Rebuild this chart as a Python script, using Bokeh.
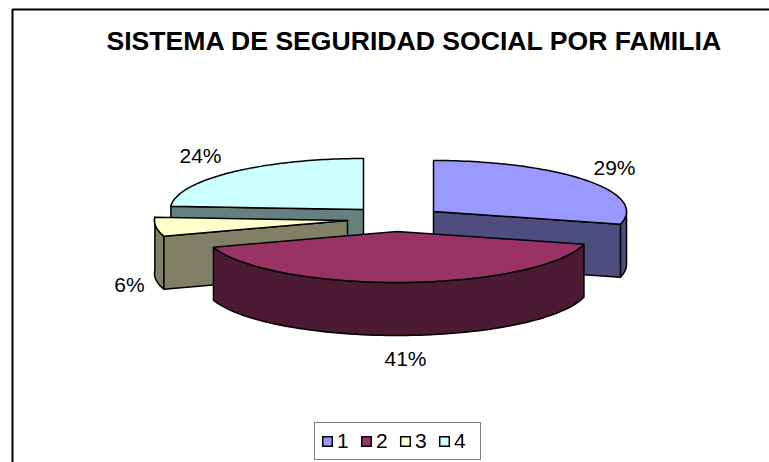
import numpy as np
from bokeh.plotting import figure
from bokeh.models import Legend, LegendItem
from bokeh.core.properties import value
from bokeh.embed import file_html
from bokeh.resources import INLINE

# data
title_text = "SISTEMA DE SEGURIDAD SOCIAL POR FAMILIA"
categories = ["1", "2", "3", "4"]
shares = [29, 41, 6, 24]

# styles
top_colors = ["#9999FF", "#993366", "#FFFFCC", "#CCFFFF"]
side_colors = ["#4D4D80", "#4D1A33", "#808066", "#668080"]
FONT = value("Liberation Sans")

# layout of the 3-D pie, in page pixels
RX, RY, DEPTH = 193.0, 51.0, 53.0
centers = [(433, 211), (396.5, 231), (347, 220), (363, 209)]
label_pos = [(614, 167), (405, 358), (129, 284), (200, 155)]

p = figure(width=769, height=462, x_range=(0, 769), y_range=(462, 0),
           output_backend="svg", toolbar_location=None, min_border=0,
           outline_line_color=None, background_fill_color="white")
p.axis.visible = False
p.grid.visible = False

p.line([12, 12, 769], [462, 9, 9], line_color="black", line_width=2)

fr = np.array(shares, dtype=float) / sum(shares)
edges = np.concatenate([[0.0], np.cumsum(fr)]) * 2 * np.pi


def arc(cx, cy, a0, a1, n=80):
    t = np.linspace(a0, a1, n)
    return cx + RX * np.sin(t), cy - RY * np.cos(t)


def draw(xs, ys, color):
    return p.patch(list(xs), list(ys), fill_color=color, line_color="black",
                   line_width=1.5, line_join="round")


def outer_wall(cx, cy, a0, a1, color):
    ax, ay = arc(cx, cy, a0, a1)
    draw(np.r_[ax, ax[::-1]], np.r_[ay, ay[::-1] + DEPTH], color)


def radial_wall(cx, cy, a, color):
    ex, ey = arc(cx, cy, a, a, 1)
    draw([cx, ex[0], ex[0], cx], [cy, ey[0], ey[0] + DEPTH, cy + DEPTH], color)


renderers = {}
for i in [3, 0, 2, 1]:                 # back to front
    cx, cy = centers[i]
    a0, a1 = edges[i], edges[i + 1]
    if i == 3:
        radial_wall(cx, cy, a0, side_colors[i])
    if i == 0:
        outer_wall(cx, cy, np.pi / 2, a1, side_colors[i])
        radial_wall(cx, cy, a1, side_colors[i])
    if i == 2:
        outer_wall(cx, cy, a0, a1, side_colors[i])
        radial_wall(cx, cy, a0, side_colors[i])
    if i == 1:
        outer_wall(cx, cy, a0, a1, side_colors[i])
    ax, ay = arc(cx, cy, a0, a1)
    renderers[i] = draw(np.r_[cx, ax], np.r_[cy, ay], top_colors[i])

p.text([414], [40], text=[title_text], text_font=FONT, text_font_style="bold",
       text_font_size="26.6px", text_align="center", text_baseline="middle",
       text_color="black")
p.text([q[0] for q in label_pos], [q[1] for q in label_pos],
       text=[f"{v}%" for v in shares], text_font=FONT, text_font_size="21px",
       text_align="center", text_baseline="middle", text_color="black")

legend = Legend(
    items=[LegendItem(label=c, renderers=[renderers[i]]) for i, c in enumerate(categories)],
    orientation="horizontal", location=(314, 2),
    glyph_width=12, glyph_height=12, label_standoff=4, spacing=3,
    padding=6, margin=0,
    label_text_font="Liberation Sans", label_text_font_size="21px",
    label_text_color="black",
    border_line_color="black", border_line_width=1.5,
    background_fill_alpha=1,
)
p.add_layout(legend, "center")

open("out.html", "w").write(file_html(p, INLINE))
